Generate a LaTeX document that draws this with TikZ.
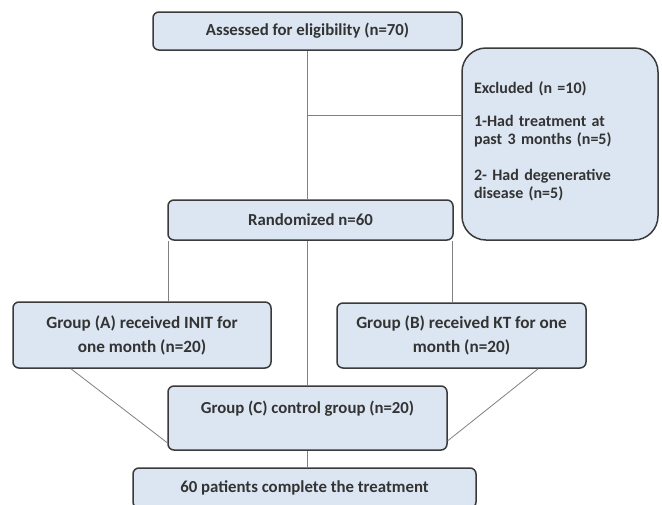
\documentclass[tikz,border=0pt]{standalone}
\usepackage{fontspec}
\setmainfont{Carlito}
\usetikzlibrary{calc}
\definecolor{boxfill}{HTML}{DCE6F2}
\definecolor{boxline}{HTML}{3A3A3A}
\definecolor{conn}{HTML}{808080}
\begin{document}
\begin{tikzpicture}[x=1pt,y=-1pt,
  flowbox/.style={draw=boxline, fill=boxfill, line width=1.5pt, rounded corners=6pt,
    align=center, inner sep=2pt, text=black!80, font=\bfseries\fontsize{16.8}{19}\selectfont},
  connline/.style={draw=conn, line width=0.8pt}]
\clip (0,0) rectangle (662,504);
\fill[white] (0,0) rectangle (662,504);

\node[flowbox, minimum width=309pt, minimum height=38pt] (assess) at (307.5,31) {Assessed for eligibility (n=70)};
\node[flowbox, rounded corners=24pt, minimum width=196pt, minimum height=192pt, text width=172pt, align=left, font=\bfseries\fontsize{16}{18}\selectfont] (excl) at (560,144)
  {Excluded (n =10)\\[15pt]1-Had treatment at\\past 3 months (n=5)\\[18pt]2- Had degenerative\\disease (n=5)\rule[-7pt]{0pt}{7pt}};
\node[flowbox, minimum width=285pt, minimum height=40pt] (rand) at (310.5,220) {Randomized n=60};
\node[flowbox, minimum width=258pt, minimum height=66pt, font=\bfseries\fontsize{17.2}{24}\selectfont] (grpA) at (142,335) {Group (A) received INIT for\\one month (n=20)};
\node[flowbox, minimum width=249pt, minimum height=65pt, font=\bfseries\fontsize{17.2}{24}\selectfont] (grpB) at (461.5,335.5) {Group (B) received KT for one\\month (n=20)};
\node[flowbox, minimum width=279pt, minimum height=64pt, text height=9pt, text depth=18pt] (grpC) at (307.5,418) {Group (C) control group (n=20)};
\node[flowbox, minimum width=343pt, minimum height=40pt] (done) at (304.5,488) {60 patients complete the treatment};

\coordinate (split) at (assess.south |- 0,115);
\draw[connline] (assess.south) -- (assess.south |- rand.north);
\draw[connline] (split) -- (split -| excl.west);
\draw[connline] ([xshift=1.5pt]rand.south west) -- ([xshift=1.5pt]rand.south west |- grpA.north);
\draw[connline] ([xshift=-1pt]rand.south east) -- ([xshift=-1pt]rand.south east |- grpB.north);
\draw[connline] (assess.south |- rand.south) -- (assess.south |- grpC.north);
\draw[connline] ($(grpA.south west)!0.226!(grpA.south east)$) -- ([yshift=8pt]grpC.south west);
\draw[connline] ($(grpB.south west)!0.806!(grpB.south east)$) -- ([yshift=10pt]grpC.south east);
\draw[connline] (assess.south |- grpC.south) -- (assess.south |- done.north);
\end{tikzpicture}
\end{document}
